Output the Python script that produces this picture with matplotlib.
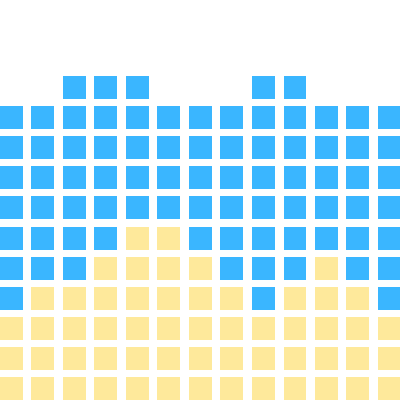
import numpy as np
import matplotlib
matplotlib.use("Agg")
from matplotlib import pyplot as plt

# liczba kwadratow w kazdej kolumnie (od lewej)
yellow_counts = [3, 4, 4, 5, 6, 6, 5, 4, 3, 4, 5, 4, 3]
blue_counts = [7, 6, 7, 6, 5, 4, 5, 6, 8, 7, 5, 6, 7]

yellow = '#FEE99B'
blue = '#3AB6FF'

cell_w = 23 / 31.5
cell_h = 23 / 30.1

fig = plt.figure(figsize=(4, 4), dpi=100)
ax = fig.add_axes([0, 0, 1, 1])

for i in range(len(yellow_counts)):
    ny = yellow_counts[i]
    nb = blue_counts[i]
    rows_y = np.arange(ny)
    rows_b = np.arange(ny, ny + nb)
    ax.bar([i] * ny, cell_h, bottom=rows_y - cell_h / 2, width=cell_w, color=yellow, linewidth=0)
    ax.bar([i] * nb, cell_h, bottom=rows_b - cell_h / 2, width=cell_w, color=blue, linewidth=0)

ax.set_xlim(-11.5 / 31.5, 388.5 / 31.5)
ax.set_ylim(-11.5 / 30.1, 388.5 / 30.1)
ax.axis('off')

fig.savefig('out.png', dpi=100)
